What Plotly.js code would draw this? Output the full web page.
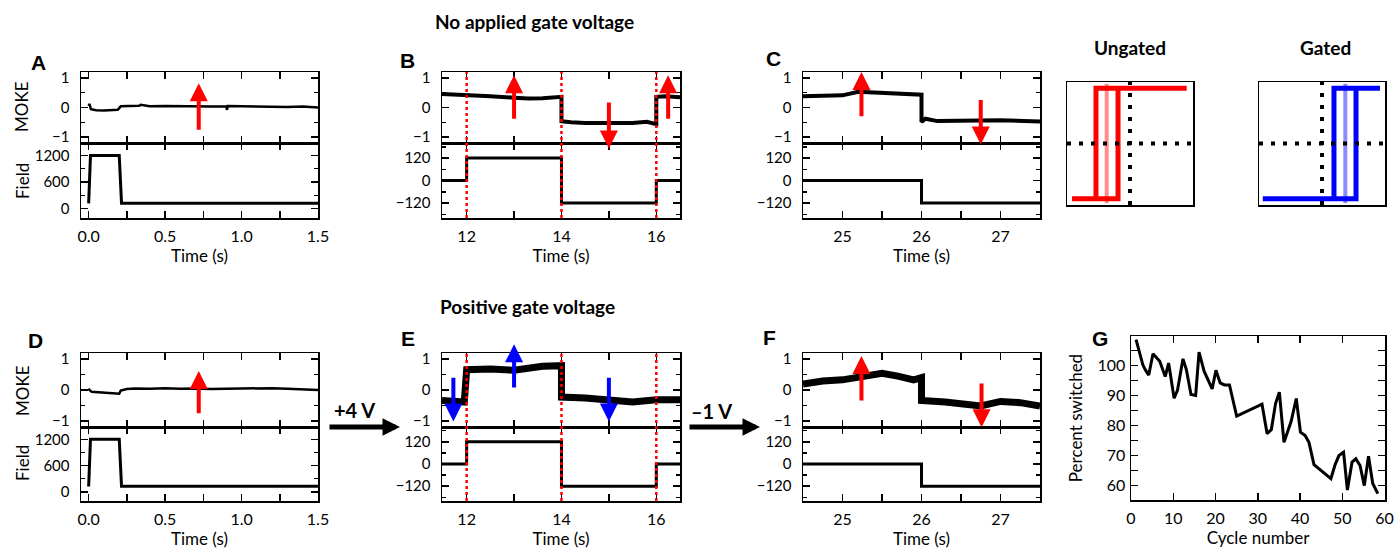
<!DOCTYPE html>
<html><head><meta charset="utf-8">
<script src="https://cdn.plot.ly/plotly-3.0.1.min.js"></script>
<style>body{margin:0;padding:0;background:#fff}</style>
</head><body><div id="chart" style="width:1394px;height:552px"></div>
<script>
// ---------- DATA ----------
// Panel A (no gate): MOKE and field vs time
const tA_moke = [0, 0.005, 0.015, 0.05, 0.1, 0.15, 0.19, 0.2, 0.21, 0.26, 0.33, 0.34, 0.4, 0.5, 0.6, 0.7, 0.8, 0.9, 0.905, 0.91, 1.0, 1.1, 1.2, 1.3, 1.4, 1.5];
const mokeA   = [0.05, 0.12, -0.06, -0.09, -0.1, -0.1, -0.08, -0.02, 0.04, 0.05, 0.06, 0.09, 0.04, 0.05, 0.04, 0.05, 0.03, 0.04, -0.08, 0.05, 0.04, 0.03, 0.03, 0.02, 0.03, 0.0];
const tA_field = [0, 0.012, 0.2, 0.215, 1.5];
const fieldA   = [120, 1200, 1200, 125, 125];
// Panel B
const tB_moke = [11.48, 11.7, 12, 12.5, 13, 13.3, 13.6, 14, 14, 14.2, 14.5, 15, 15.5, 15.8, 16, 16, 16.2, 16.5];
const mokeB   = [0.46, 0.45, 0.42, 0.38, 0.33, 0.3, 0.31, 0.36, -0.46, -0.5, -0.52, -0.53, -0.52, -0.48, -0.56, 0.36, 0.38, 0.35];
const tB_field = [11.48, 12, 12, 14, 14, 16, 16, 16.5];
const fieldB   = [0, 0, 120, 120, -120, -120, 0, 0];
// Panel C
const tC_moke = [24.5, 24.8, 25.0, 25.2, 25.5, 25.8, 26, 26, 26.05, 26.2, 26.5, 27, 27.5];
const mokeC   = [0.38, 0.39, 0.41, 0.53, 0.49, 0.44, 0.43, -0.49, -0.38, -0.46, -0.46, -0.43, -0.47];
const tC_field = [24.5, 26, 26, 27.5];
const fieldC   = [0, 0, -120, -120];
// Panel D (positive gate)
const tD_moke = [0, 0.005, 0.02, 0.05, 0.1, 0.15, 0.2, 0.21, 0.25, 0.3, 0.4, 0.5, 0.6, 0.7, 0.8, 0.9, 1.0, 1.1, 1.2, 1.3, 1.4, 1.5];
const mokeD   = [0.05, 0.0, -0.06, -0.07, -0.08, -0.09, -0.12, -0.02, 0.03, 0.05, 0.04, 0.06, 0.04, 0.05, 0.03, 0.04, 0.05, 0.04, 0.06, 0.04, 0.03, 0.0];
const tD_field = [0, 0.012, 0.2, 0.215, 1.5];
const fieldD   = [120, 1200, 1200, 125, 125];
// Panel E (+4 V)
const tE_moke = [11.48, 11.7, 11.95, 12, 12.5, 13, 13.3, 13.6, 14, 14, 14.5, 15, 15.5, 16, 16.5];
const mokeE   = [-0.34, -0.36, -0.39, 0.66, 0.68, 0.64, 0.7, 0.77, 0.79, -0.23, -0.26, -0.34, -0.39, -0.32, -0.32];
const tE_field = [11.48, 12, 12, 14, 14, 16, 16, 16.5];
const fieldE   = [0, 0, 120, 120, -120, -120, 0, 0];
// Panel F (-1 V)
const tF_moke = [24.5, 24.75, 25, 25.3, 25.5, 25.7, 25.9, 26, 26, 26.3, 26.5, 26.75, 27, 27.25, 27.5];
const mokeF   = [0.19, 0.29, 0.33, 0.45, 0.54, 0.45, 0.33, 0.4, -0.34, -0.39, -0.44, -0.52, -0.37, -0.41, -0.52];
const tF_field = [24.5, 26, 26, 27.5];
const fieldF   = [0, 0, -120, -120];
// Hysteresis sketches (normalised field, normalised M)
const ungatedX = [-0.92, -0.19, -0.19, null, -0.54, -0.54, 0.9];
const ungatedY = [-0.9, -0.9, 0.9, null, -0.9, 0.9, 0.9];
const ungatedFadedX = [-0.37, -0.37];
const gatedX = [-0.94, 0.54, 0.54, null, 0.19, 0.19, 0.92];
const gatedY = [-0.9, -0.9, 0.9, null, -0.9, 0.9, 0.9];
const gatedFadedX = [0.37, 0.37];
const fadedY = [-0.97, 0.97];
// Panel G
const cycle = [1.2, 2.8, 3.4, 4.2, 5.2, 6.8, 8.1, 8.9, 10.2, 11, 12.3, 13.1, 14.2, 15.3, 16.1, 17.3, 19.2, 20.1, 21.1, 22.1, 23.3, 25.0, 31, 32.2, 33.2, 34.2, 35.1, 36.2, 37.9, 39.1, 40.1, 41.2, 42.1, 43.3, 47.3, 48.3, 49.2, 50.3, 51.2, 52.3, 53.2, 54.2, 55.2, 56.2, 57.2, 58.4];
const percentSwitched = [108.6, 100.2, 98.5, 96.8, 103.9, 101.4, 96.3, 100.8, 89.1, 91.7, 102.2, 98.6, 90.3, 90.0, 104.4, 98.1, 92.2, 98.4, 94.2, 93.5, 93.5, 83.1, 87.1, 77.3, 78.6, 87.3, 91.1, 74.4, 81.4, 89, 77.8, 76.7, 74.4, 67, 62.3, 67, 70, 71.1, 58.5, 67.8, 68.9, 66.7, 60, 69.8, 60.7, 57.3];
const cycleTicks = [0, 10, 20, 30, 40, 50, 60];

// ---------- LAYOUT HELPERS ----------
const W = 1394, H = 552;
const px = v => v / W;
const py = v => 1 - v / H;
const FONT = 'Lato, "Open Sans", sans-serif';
const BOLD = 'Lato, "Open Sans", sans-serif';
const RED = '#ff0000', BLUE = '#0000ff';

function axis(extra) {
  return Object.assign({
    showline: true, linecolor: 'black', linewidth: 1.5, mirror: 'ticks',
    ticks: 'inside', ticklen: 7, tickwidth: 1.5, tickcolor: 'black',
    zeroline: false, showgrid: false, fixedrange: true, automargin: false,
    tickfont: {family: FONT, size: 16, color: 'black'}
  }, extra);
}
const YFONT = {family: FONT, size: 15, color: 'black'};

const colX = [[81, 318], [442, 680], [803, 1040]];
const rowY = [{m: [72, 143], f: [143, 218]}, {m: [353, 427], f: [427, 501]}];
const xRanges = [[-0.05, 1.5], [11.48, 16.5], [24.5, 27.5]];
const xDt = [0.5, 2, 1];
const xMinor = [0.25, 1, 0.5];
const xFmt = ['.1f', '', ''];
const fieldRanges = [[-210, 1480], [-200, 200], [-200, 200]];
const fieldDt = [600, 120, 120];
const fieldMinor = [300, 60, 60];

const layout = {
  width: W, height: H, margin: {l: 0, r: 0, t: 0, b: 0},
  paper_bgcolor: 'white', plot_bgcolor: 'white', showlegend: false,
  annotations: [], shapes: []
};
const traces = [];

const panels = [
  {t: tA_moke, m: mokeA, tf: tA_field, f: fieldA, wm: 2.5},
  {t: tB_moke, m: mokeB, tf: tB_field, f: fieldB, wm: 4},
  {t: tC_moke, m: mokeC, tf: tC_field, f: fieldC, wm: 4},
  {t: tD_moke, m: mokeD, tf: tD_field, f: fieldD, wm: 2.5},
  {t: tE_moke, m: mokeE, tf: tE_field, f: fieldE, wm: 7},
  {t: tF_moke, m: mokeF, tf: tF_field, f: fieldF, wm: 7}
];

panels.forEach((p, i) => {
  const row = Math.floor(i / 3), col = i % 3;
  const nM = 2 * i + 1, nF = 2 * i + 2;
  const kx = n => n === 1 ? 'xaxis' : 'xaxis' + n;
  const ky = n => n === 1 ? 'yaxis' : 'yaxis' + n;
  const rx = n => n === 1 ? 'x' : 'x' + n;
  const ry = n => n === 1 ? 'y' : 'y' + n;
  layout[kx(nM)] = axis({domain: [px(colX[col][0]), px(colX[col][1])], range: xRanges[col],
    anchor: ry(nM), showticklabels: false, dtick: xMinor[col], tick0: 0});
  layout[ky(nM)] = axis({domain: [py(rowY[row].m[1]), py(rowY[row].m[0])], range: [-1.2, 1.2],
    anchor: rx(nM), dtick: 1, tick0: 0, ticklabelstandoff: 7, tickfont: YFONT,
    minor: {dtick: 0.5, tick0: 0, ticks: 'inside', ticklen: 4, tickwidth: 1.5, tickcolor: 'black'}});
  layout[kx(nF)] = axis({domain: [px(colX[col][0]), px(colX[col][1])], range: xRanges[col],
    anchor: ry(nF), dtick: xDt[col], tick0: 0, tickformat: xFmt[col], ticklabelstandoff: 3,
    minor: {dtick: xMinor[col], tick0: 0, ticks: 'inside', ticklen: 7, tickwidth: 1.5, tickcolor: 'black'},
    title: {text: 'Time (s)', font: {family: FONT, size: 17, color: 'black'}, standoff: 4}});
  layout[ky(nF)] = axis({domain: [py(rowY[row].f[1]), py(rowY[row].f[0])], range: fieldRanges[col],
    anchor: rx(nF), dtick: fieldDt[col], tick0: 0, ticklabelstandoff: 7, tickfont: YFONT,
    minor: {dtick: fieldMinor[col], tick0: 0, ticks: 'inside', ticklen: 4, tickwidth: 1.5, tickcolor: 'black'}});
  traces.push({type: 'scatter', mode: 'lines', x: p.t, y: p.m, xaxis: rx(nM), yaxis: ry(nM),
    line: {color: 'black', width: p.wm}, hoverinfo: 'skip'});
  traces.push({type: 'scatter', mode: 'lines', x: p.tf, y: p.f, xaxis: rx(nF), yaxis: ry(nF),
    line: {color: 'black', width: 3}, hoverinfo: 'skip'});
});

// Red dotted switching lines for B (x4) and E (x10)
[[4, 0], [10, 1]].forEach(([n, row]) => {
  [12, 14, 16].forEach(v => layout.shapes.push({type: 'line', xref: 'x' + n, yref: 'paper',
    x0: v, x1: v, y0: py(rowY[row].f[1]), y1: py(rowY[row].m[0]),
    line: {color: RED, width: 2.5, dash: 'dot'}, layer: 'above'}));
});

// Arrows on MOKE panels: [axis number, x, tailY, tipY, colour]
const arrows = [
  [1, 0.72, -0.8, 0.82, RED],
  [3, 13, -0.43, 1.09, RED], [3, 15, 0.22, -1.39, RED], [3, 16.25, -0.43, 1.09, RED],
  [5, 25.24, -0.35, 1.2, RED], [5, 26.75, 0.3, -1.25, RED],
  [7, 0.72, -0.8, 0.62, RED],
  [9, 11.72, 0.45, -1.02, BLUE], [9, 13, 0.03, 1.48, BLUE], [9, 15, 0.45, -1.02, BLUE],
  [11, 25.24, -0.39, 1.1, RED], [11, 26.76, 0.26, -1.21, RED]
];
arrows.forEach(([n, x, ty, hy, c]) => {
  const xr = n === 1 ? 'x' : 'x' + n, yr = n === 1 ? 'y' : 'y' + n;
  layout.annotations.push({xref: xr, yref: yr, axref: xr, ayref: yr, x: x, y: hy, ax: x, ay: ty,
    text: '', showarrow: true, arrowhead: 2, arrowsize: 0.9, arrowwidth: 4, arrowcolor: c,
    standoff: 0, startstandoff: 0});
});

// Insets
layout.xaxis13 = {domain: [px(1067), px(1193)], range: [-1, 1], anchor: 'y13', showline: true, mirror: true,
  linecolor: 'black', linewidth: 1.5, showticklabels: false, ticks: '', zeroline: false, showgrid: false, fixedrange: true};
layout.yaxis13 = {domain: [py(205), py(82)], range: [-1, 1], anchor: 'x13', showline: true, mirror: true,
  linecolor: 'black', linewidth: 1.5, showticklabels: false, ticks: '', zeroline: false, showgrid: false, fixedrange: true};
layout.xaxis14 = Object.assign({}, layout.xaxis13, {domain: [px(1259), px(1385)], anchor: 'y14'});
layout.yaxis14 = Object.assign({}, layout.yaxis13, {anchor: 'x14'});

[[13, ungatedX, ungatedY, ungatedFadedX, RED, 'rgba(255,0,0,0.45)'],
 [14, gatedX, gatedY, gatedFadedX, BLUE, 'rgba(0,0,255,0.45)']].forEach(([n, lx, ly, fx, c, fc]) => {
  traces.push({type: 'scatter', mode: 'lines', x: fx, y: fadedY, xaxis: 'x' + n, yaxis: 'y' + n,
    line: {color: fc, width: 4}, hoverinfo: 'skip'});
  traces.push({type: 'scatter', mode: 'lines', x: lx, y: ly, xaxis: 'x' + n, yaxis: 'y' + n,
    line: {color: c, width: 5}, connectgaps: false, hoverinfo: 'skip'});
  traces.push({type: 'scatter', mode: 'lines', x: [0, 0], y: [-1, 1], xaxis: 'x' + n, yaxis: 'y' + n,
    line: {color: 'black', width: 4, dash: '4px,8px'}, hoverinfo: 'skip'});
  traces.push({type: 'scatter', mode: 'lines', x: [-1, 1], y: [0, 0], xaxis: 'x' + n, yaxis: 'y' + n,
    line: {color: 'black', width: 4, dash: '4px,8px'}, hoverinfo: 'skip'});
});

// Panel G
layout.xaxis15 = axis({domain: [px(1131), px(1385)], range: [0, 60.1], anchor: 'y15',
  tickmode: 'array', tickvals: cycleTicks, ticktext: cycleTicks.map(String),
  ticklabelstandoff: 3, ticklabeloverflow: 'allow',
  title: {text: 'Cycle number', font: {family: FONT, size: 17, color: 'black'}, standoff: 6}});
layout.yaxis15 = axis({domain: [py(500), py(336)], range: [55.2, 109.8], anchor: 'x15', dtick: 10, tick0: 0,
  ticklabelstandoff: 1,
  minor: {dtick: 5, tick0: 0, ticks: 'inside', ticklen: 7, tickwidth: 1.5, tickcolor: 'black'},
  title: {text: 'Percent switched', font: {family: FONT, size: 17, color: 'black'}, standoff: 10}});
traces.push({type: 'scatter', mode: 'lines', x: cycle, y: percentSwitched, xaxis: 'x15', yaxis: 'y15',
  line: {color: 'black', width: 3}, hoverinfo: 'skip'});

// Text annotations
function txt(x, y, s, size, fam, bold, extra) {
  layout.annotations.push(Object.assign({xref: 'paper', yref: 'paper', x: px(x), y: py(y), text: bold ? '<b>' + s + '</b>' : s,
    showarrow: false, xanchor: 'center', yanchor: 'middle',
    font: {family: fam, size: size, color: 'black'}}, extra || {}));
}
txt(534, 22, 'No applied gate voltage', 19, BOLD, true);
txt(527, 306, 'Positive gate voltage', 19, BOLD, true);
txt(1130, 48, 'Ungated', 19, BOLD, true);
txt(1325, 48, 'Gated', 19, BOLD, true);
const LET = '"Liberation Sans", Arial, sans-serif';
txt(38, 62, 'A', 21, LET, true); txt(407, 60, 'B', 21, LET, true); txt(773, 58, 'C', 21, LET, true);
txt(35, 340, 'D', 21, LET, true); txt(408, 338, 'E', 21, LET, true); txt(769, 337, 'F', 21, LET, true);
txt(1100, 338, 'G', 21, LET, true);
txt(22, 107, 'MOKE', 17, FONT, false, {textangle: -90});
txt(22, 181, 'Field', 17, FONT, false, {textangle: -90});
txt(22, 391, 'MOKE', 17, FONT, false, {textangle: -90});
txt(22, 463, 'Field', 17, FONT, false, {textangle: -90});
txt(354, 410, '+4 V', 20, BOLD, true);
txt(711, 411, '\u20131 V', 20, BOLD, true);
// Big black arrows between panels
[[400, 427], [760, 427]].forEach(([x, y]) => layout.annotations.push({xref: 'paper', yref: 'paper',
  x: px(x), y: py(y), ax: -72, ay: 0, text: '', showarrow: true, arrowhead: 2, arrowsize: 0.7,
  arrowwidth: 5, arrowcolor: 'black', standoff: 0, startstandoff: 0}));

Plotly.newPlot('chart', traces, layout, {displayModeBar: false, staticPlot: true});
</script></body></html>
